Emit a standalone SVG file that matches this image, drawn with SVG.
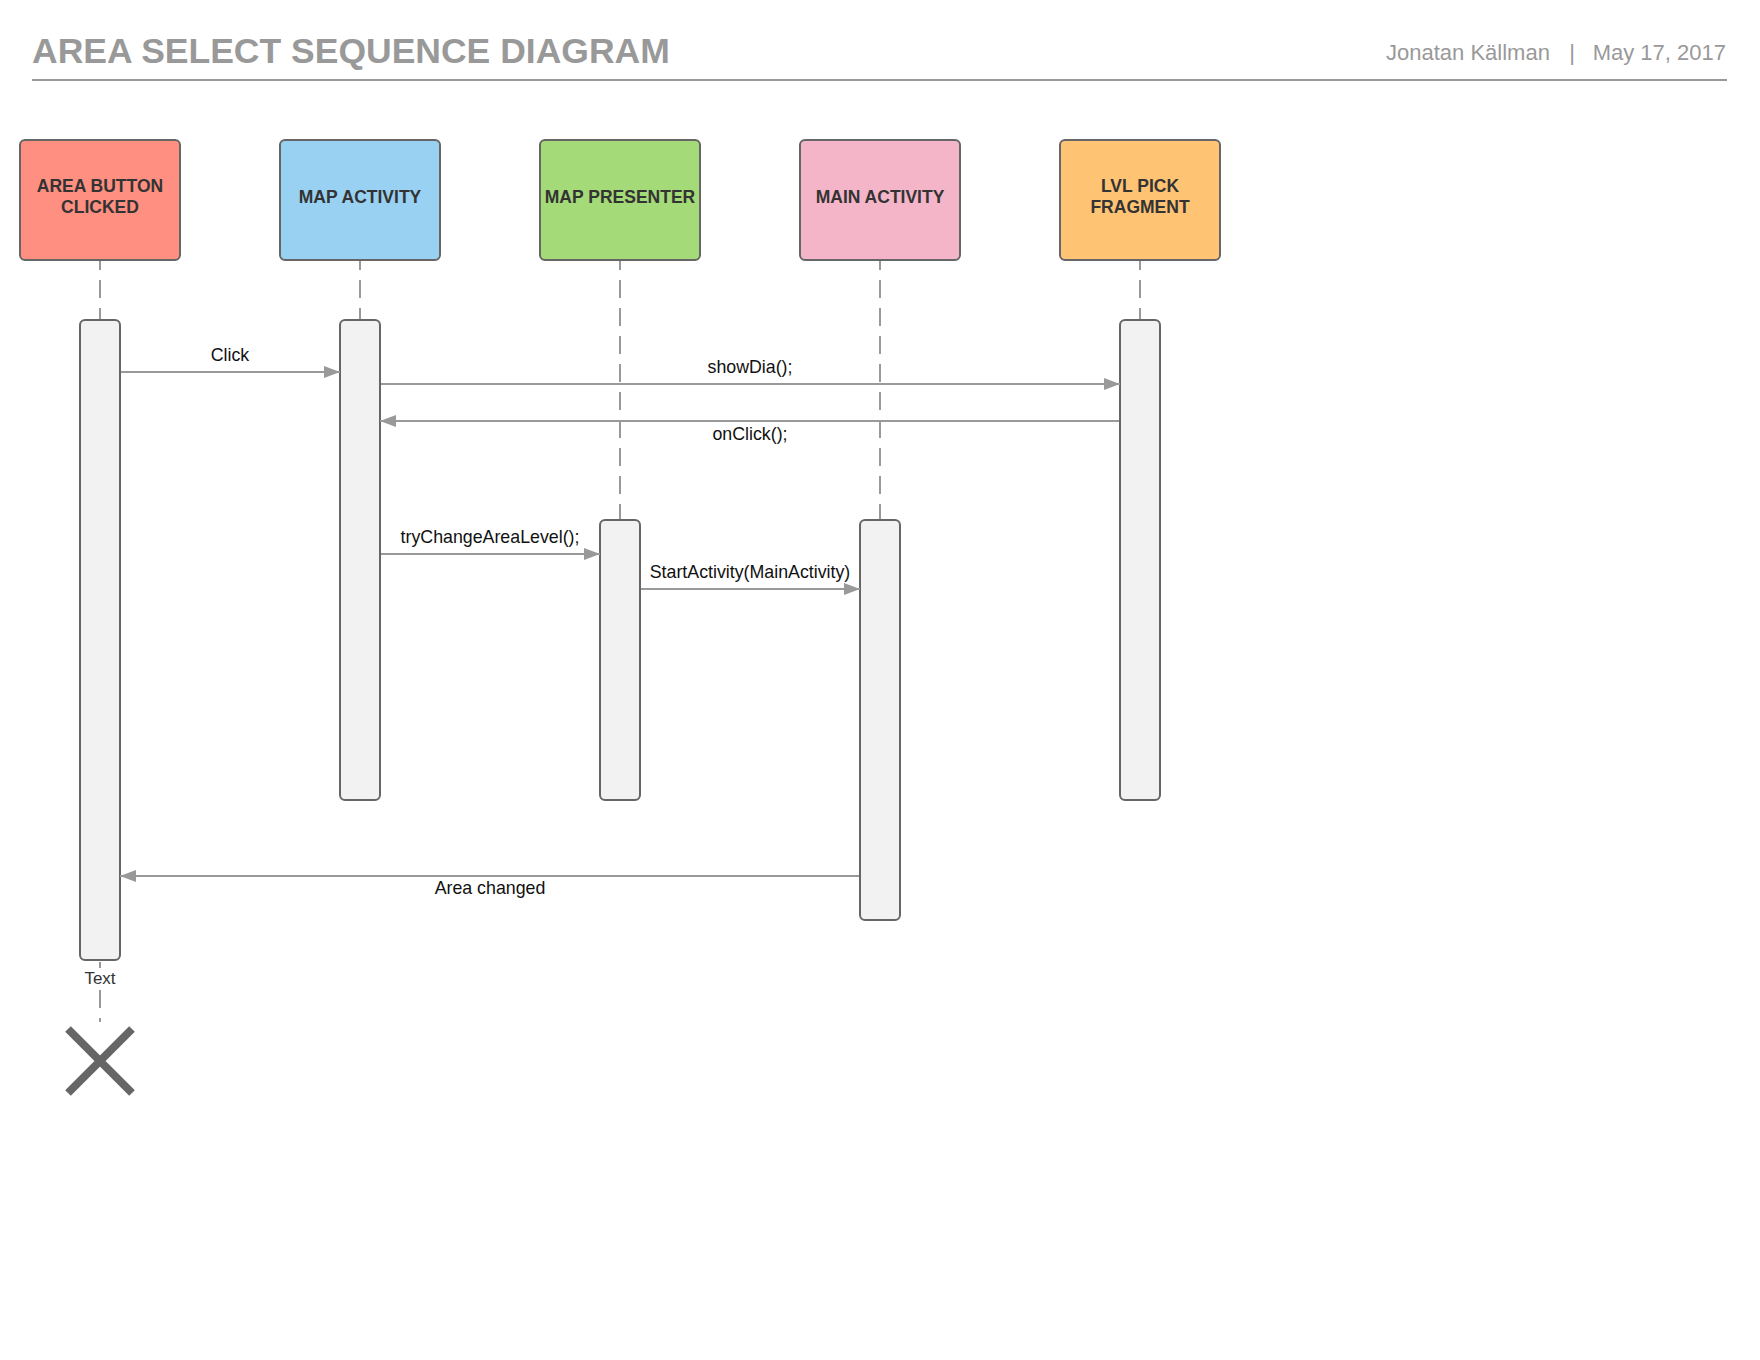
<svg xmlns="http://www.w3.org/2000/svg" width="1760" height="1360" viewBox="0 0 1760 1360">
<style>
.head{stroke:#666;stroke-width:2}
.act{fill:#f2f2f2;stroke:#666;stroke-width:2}
.life{stroke:#999;stroke-width:2;stroke-dasharray:18 10;stroke-dashoffset:8;fill:none}
.nt{font-family:"Liberation Sans",Arial,sans-serif;font-weight:bold;font-size:17.5px;fill:#333;text-anchor:middle}
.msg{stroke:#999;stroke-width:2;fill:none;marker-end:url(#arr)}
.lbl{font-family:"Liberation Sans",Arial,sans-serif;font-size:17.8px;fill:#111;text-anchor:middle}
</style>
<defs>
<marker id="arr" markerUnits="userSpaceOnUse" markerWidth="16" markerHeight="12" refX="16" refY="6" orient="auto">
<path d="M0,0 L16,6 L0,12 z" fill="#999"/>
</marker>
</defs>
<rect width="1760" height="1360" fill="#fff"/>
<g id="header">
<text x="32" y="63" font-family="Liberation Sans,Arial,sans-serif" font-weight="bold" font-size="35.5" fill="#999">AREA SELECT SEQUENCE DIAGRAM</text>
<text x="1386" y="60" font-family="Liberation Sans,Arial,sans-serif" font-size="22" fill="#999">Jonatan Källman</text>
<text x="1572" y="60" font-family="Liberation Sans,Arial,sans-serif" font-size="22" fill="#999" text-anchor="middle">|</text>
<text x="1726" y="60" font-family="Liberation Sans,Arial,sans-serif" font-size="22" fill="#999" text-anchor="end">May 17, 2017</text>
<line x1="32" y1="80" x2="1727" y2="80" stroke="#999" stroke-width="2"/>
</g>
<g id="lifelines">
<line class="life" x1="100" y1="260" x2="100" y2="320"/>
<line class="life" x1="360" y1="260" x2="360" y2="320"/>
<line class="life" x1="620" y1="260" x2="620" y2="520"/>
<line class="life" x1="880" y1="260" x2="880" y2="520"/>
<line class="life" x1="1140" y1="260" x2="1140" y2="320"/>
<line x1="100" y1="962" x2="100" y2="1022" stroke="#999" stroke-width="2" stroke-dasharray="18 10"/>
</g>
<g id="node-area-button">
<rect class="head" x="20" y="140" width="160" height="120" rx="5" fill="#ff8f80"/>
<text class="nt" x="100" y="192">AREA BUTTON</text>
<text class="nt" x="100" y="213">CLICKED</text>
<rect class="act" x="80" y="320" width="40" height="640" rx="5"/>
</g>
<g id="node-map-activity">
<rect class="head" x="280" y="140" width="160" height="120" rx="5" fill="#99d1f2"/>
<text class="nt" x="360" y="203">MAP ACTIVITY</text>
<rect class="act" x="340" y="320" width="40" height="480" rx="5"/>
</g>
<g id="node-map-presenter">
<rect class="head" x="540" y="140" width="160" height="120" rx="5" fill="#a4da78"/>
<text class="nt" x="620" y="203">MAP PRESENTER</text>
<rect class="act" x="600" y="520" width="40" height="280" rx="5"/>
</g>
<g id="node-main-activity">
<rect class="head" x="800" y="140" width="160" height="120" rx="5" fill="#f5b5c8"/>
<text class="nt" x="880" y="203">MAIN ACTIVITY</text>
<rect class="act" x="860" y="520" width="40" height="400" rx="5"/>
</g>
<g id="node-lvl-pick">
<rect class="head" x="1060" y="140" width="160" height="120" rx="5" fill="#ffc374"/>
<text class="nt" x="1140" y="192">LVL PICK</text>
<text class="nt" x="1140" y="213">FRAGMENT</text>
<rect class="act" x="1120" y="320" width="40" height="480" rx="5"/>
</g>
<g id="connectors">
<line class="msg" x1="121" y1="372" x2="340" y2="372"/>
<text class="lbl" x="230" y="361">Click</text>
<line class="msg" x1="381" y1="384" x2="1120" y2="384"/>
<text class="lbl" x="750" y="373">showDia();</text>
<line class="msg" x1="1119" y1="421" x2="380" y2="421"/>
<text class="lbl" x="750" y="440">onClick();</text>
<line class="msg" x1="381" y1="554" x2="600" y2="554"/>
<text class="lbl" x="490" y="543">tryChangeAreaLevel();</text>
<line class="msg" x1="641" y1="589" x2="860" y2="589"/>
<text class="lbl" x="750" y="578">StartActivity(MainActivity)</text>
<line class="msg" x1="859" y1="876" x2="120" y2="876"/>
<text class="lbl" x="490" y="894">Area changed</text>
</g>
<g id="destroy">
<rect x="80" y="968" width="40" height="20" fill="#fff"/>
<text x="100" y="984" font-family="Liberation Sans,Arial,sans-serif" font-size="17" fill="#333" text-anchor="middle">Text</text>
<path d="M68,1029 L132,1093 M132,1029 L68,1093" stroke="#666" stroke-width="8" fill="none"/>
</g>
</svg>
